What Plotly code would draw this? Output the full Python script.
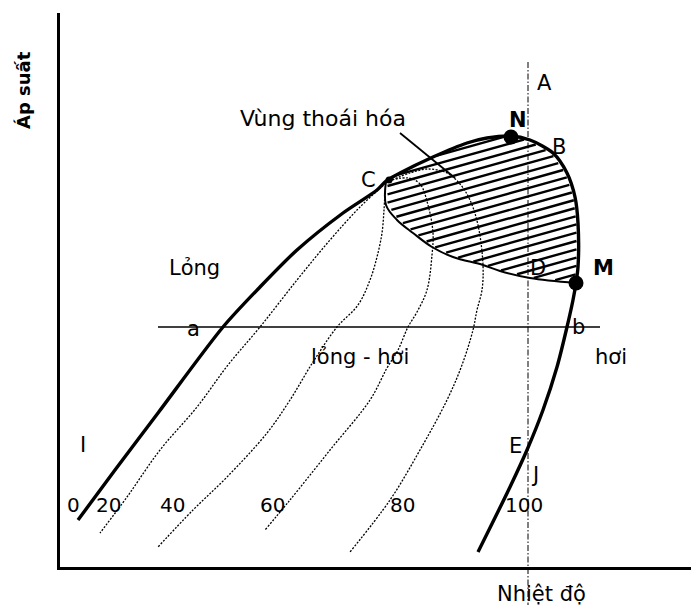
import plotly.graph_objects as go
import numpy as np

# ---------------- data (pixel-like units, y downward) -------------
# thick envelope: bubble line -> C -> N -> B -> M -> dew line
envelope_x = [78, 115, 158, 223, 260, 297, 343, 377, 386, 400, 433, 467, 487, 510, 530, 553, 567, 575, 578, 578, 576, 573, 567, 557, 543, 527, 510, 478]
envelope_y = [520, 470, 413, 327, 287, 250, 213, 190, 181, 173, 157, 143, 138, 136, 140, 153, 173, 197, 223, 267, 283, 300, 327, 367, 410, 450, 487, 552]

# upper edge of the degenerate region (C .. M) and its lower edge (M .. C)
upper_x = [386, 400, 433, 467, 487, 510, 530, 553, 567, 575, 578, 578, 576]
upper_y = [181, 173, 157, 143, 138, 136, 140, 153, 173, 197, 223, 267, 283]
lower_x = [576, 530, 500, 483, 453, 432, 413, 397, 386, 386]
lower_y = [283, 278, 271, 265, 257, 247, 233, 220, 205, 181]

# isotherms (dotted)
iso20_x = [386, 360, 330, 297, 260, 228, 197, 160, 127, 100]
iso20_y = [183, 207, 240, 280, 327, 365, 407, 450, 497, 533]
iso40_x = [385, 384, 382, 377, 370, 358, 337, 313, 290, 267, 227, 193, 158]
iso40_y = [192, 210, 233, 257, 280, 305, 327, 362, 400, 433, 477, 510, 547]
iso60_x = [392, 408, 420, 428, 433, 432, 427, 417, 408, 398, 387, 370, 330, 290, 265]
iso60_y = [180, 178, 184, 205, 233, 255, 290, 312, 327, 350, 368, 400, 450, 500, 530]
iso80_x = [392, 410, 428, 447, 460, 470, 478, 483, 482, 477, 473, 462, 447, 420, 390, 350]
iso80_y = [180, 173, 169, 173, 184, 200, 225, 265, 290, 310, 330, 365, 400, 450, 500, 552]

# constant-pressure line a-b and constant-temperature line (A..J)
isobar_x = [158, 600]
isobar_y = [327, 327]
isotherm_x = [528, 528]
isotherm_y = [62, 605]

# pointer from the label to the region
pointer_x = [400, 455]
pointer_y = [133, 178]

# points N, M and C
dots_x = [511, 576]
dots_y = [137, 283]
c_dot = (389, 180)

# labels
labels = ["A", "N", "B", "C", "D", "M", "Lỏng", "a", "b", "lỏng - hơi", "hơi", "I", "E", "J"]
label_x = [544, 518, 559, 368, 538, 603, 194, 193, 578, 360, 611, 83, 515, 535]
label_y = [83, 120, 147, 180, 268, 268, 268, 329, 327, 357, 357, 445, 446, 475]
label_bold = [False, True, False, False, False, True, False, False, False, False, False, False, False, False]

temp_labels = ["0", "20", "40", "60", "80", "100"]
temp_label_x = [73, 108, 172, 272, 402, 524]
temp_label_y = [505, 505, 505, 505, 505, 505]

region_label = "Vùng thoái hóa"
region_label_pos = (323, 118)
y_title = "Áp suất"
y_title_pos = (24, 90)
x_title = "Nhiệt độ"
x_title_pos = (541, 594)

FONT = "DejaVu Sans, Verdana, sans-serif"

fig = go.Figure()

# ---------------- hatching of the degenerate region ----------------
poly_x = np.array(upper_x + lower_x[1:], dtype=float)
poly_y = np.array(upper_y + lower_y[1:], dtype=float)
slope = 0.28
step = 8.3
hx, hy = [], []
vals = poly_y + slope * poly_x
for b in np.arange(vals.min() + step / 2, vals.max(), step):
    xs = []
    n = len(poly_x)
    for i in range(n):
        x1, y1 = poly_x[i], poly_y[i]
        x2, y2 = poly_x[(i + 1) % n], poly_y[(i + 1) % n]
        f1 = y1 + slope * x1 - b
        f2 = y2 + slope * x2 - b
        if f1 == f2 or f1 * f2 > 0:
            continue
        t = f1 / (f1 - f2)
        xs.append(x1 + t * (x2 - x1))
    xs.sort()
    for k in range(0, len(xs) - 1, 2):
        xa, xb = xs[k] + 1.5, xs[k + 1] - 1.5
        if xb > xa:
            hx += [xa, xb, None]
            hy += [b - slope * xa, b - slope * xb, None]
fig.add_trace(go.Scatter(x=hx, y=hy, mode="lines", line=dict(color="black", width=2.4), hoverinfo="skip"))

# lower edge of region
fig.add_trace(go.Scatter(x=lower_x, y=lower_y, mode="lines", line=dict(color="black", width=2, shape="spline"),
                         hoverinfo="skip"))

# isotherms
for xs_, ys_ in [(iso20_x, iso20_y), (iso40_x, iso40_y), (iso60_x, iso60_y), (iso80_x, iso80_y)]:
    fig.add_trace(go.Scatter(x=xs_, y=ys_, mode="lines",
                             line=dict(color="black", width=1.3, dash="2px,1.5px", shape="spline"),
                             hoverinfo="skip"))

# isobar a-b
fig.add_trace(go.Scatter(x=isobar_x, y=isobar_y, mode="lines", line=dict(color="black", width=1.5),
                         hoverinfo="skip"))

# pointer
fig.add_trace(go.Scatter(x=pointer_x, y=pointer_y, mode="lines", line=dict(color="black", width=1.8),
                         hoverinfo="skip"))

# envelope
fig.add_trace(go.Scatter(x=envelope_x, y=envelope_y, mode="lines",
                         line=dict(color="black", width=3.4, shape="spline", smoothing=0.8), hoverinfo="skip"))

# dots
fig.add_trace(go.Scatter(x=dots_x, y=dots_y, mode="markers", marker=dict(color="black", size=15),
                         hoverinfo="skip", cliponaxis=False))
fig.add_trace(go.Scatter(x=[c_dot[0]], y=[c_dot[1]], mode="markers", marker=dict(color="black", size=7),
                         hoverinfo="skip"))

# plot-area geometry (pixels) used to place items that lie outside the axes
PLOT_LEFT, PLOT_RIGHT = 60, 691
PLOT_TOP, PLOT_BOTTOM = 13, 567


def to_paper_y(py):
    return (PLOT_BOTTOM - py) / (PLOT_BOTTOM - PLOT_TOP)


def to_paper_x(px):
    return (px - PLOT_LEFT) / (PLOT_RIGHT - PLOT_LEFT)


# vertical dash-dot line (extends below the axis)
fig.add_shape(type="line", xref="x", yref="paper",
              x0=isotherm_x[0], x1=isotherm_x[1],
              y0=to_paper_y(isotherm_y[0]), y1=to_paper_y(isotherm_y[1]),
              line=dict(color="black", width=1, dash="6px,2px,1.5px,2px"))

# labels
for t, x, y, bd in zip(labels, label_x, label_y, label_bold):
    fig.add_annotation(x=x, y=y, text=f"<b>{t}</b>" if bd else t, showarrow=False,
                       xanchor="center", yanchor="middle",
                       font=dict(family=FONT, size=21, color="black"))
for t, x, y in zip(temp_labels, temp_label_x, temp_label_y):
    fig.add_annotation(x=x, y=y, text=t, showarrow=False, xanchor="center", yanchor="middle",
                       font=dict(family=FONT, size=20, color="black"))

fig.add_annotation(x=region_label_pos[0], y=region_label_pos[1], text=region_label, showarrow=False,
                   xanchor="center", yanchor="middle", font=dict(family=FONT, size=22, color="black"))
fig.add_annotation(x=to_paper_x(y_title_pos[0]), y=to_paper_y(y_title_pos[1]), xref="paper", yref="paper",
                   text=f"<b>{y_title}</b>", showarrow=False, textangle=-90,
                   xanchor="center", yanchor="middle", font=dict(family=FONT, size=18, color="black"))
fig.add_annotation(x=to_paper_x(x_title_pos[0]), y=to_paper_y(x_title_pos[1]), xref="paper", yref="paper",
                   text=x_title, showarrow=False,
                   xanchor="center", yanchor="middle", font=dict(family=FONT, size=21, color="black"))

fig.update_layout(
    width=691, height=605,
    margin=dict(l=PLOT_LEFT, r=691 - PLOT_RIGHT, t=PLOT_TOP, b=605 - PLOT_BOTTOM),
    paper_bgcolor="white", plot_bgcolor="white",
    showlegend=False,
    xaxis=dict(range=[PLOT_LEFT, PLOT_RIGHT], showline=True, linecolor="black", linewidth=3, showgrid=False,
               zeroline=False, showticklabels=False, ticks="", fixedrange=True),
    yaxis=dict(range=[PLOT_BOTTOM, PLOT_TOP], showline=True, linecolor="black", linewidth=3, showgrid=False,
               zeroline=False, showticklabels=False, ticks="", fixedrange=True),
)

fig.write_html("out.html", config={"displayModeBar": False},
               post_script="document.body.style.margin='0';document.body.style.padding='0';"
                           "document.documentElement.style.overflow='hidden';")
